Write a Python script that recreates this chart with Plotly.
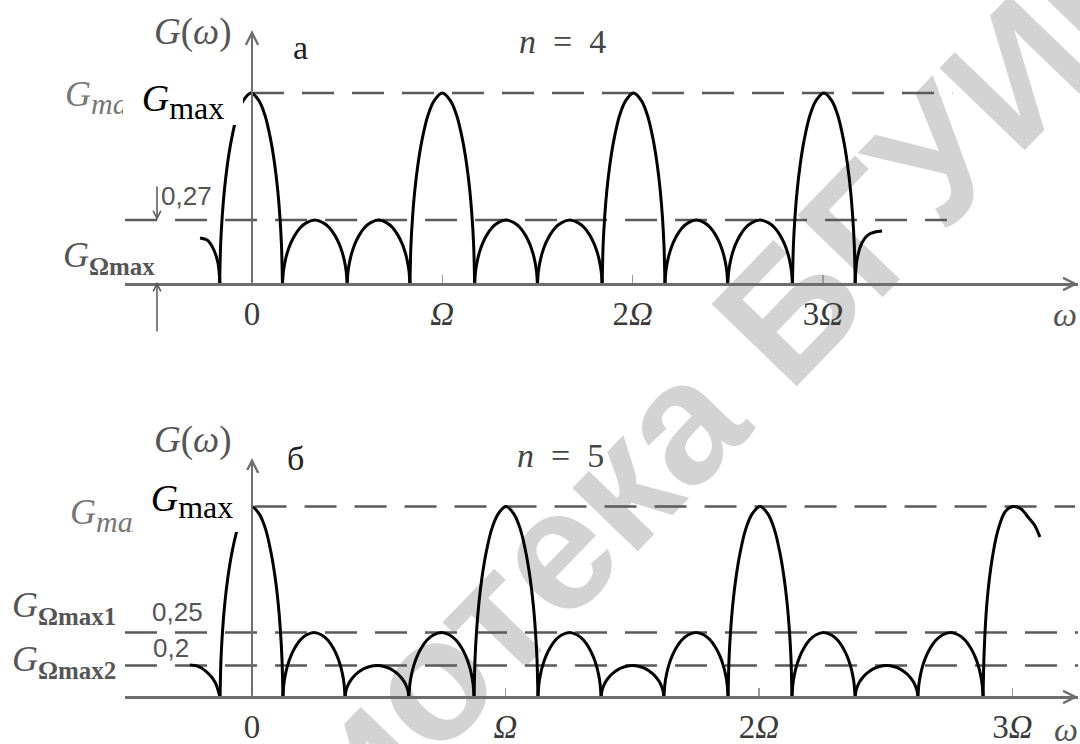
import plotly.graph_objects as go

W, H = 1080, 744

# ---------------- data ----------------
# common lobe profile: distance from lobe centre (in half-widths) -> relative height
ARCH_T = [0.0, 0.25, 0.45, 0.62, 0.75, 0.85, 0.92, 0.97, 1.0]
ARCH_H = [1.0, 0.96, 0.88, 0.76, 0.63, 0.49, 0.35, 0.20, 0.0]

# panel "а", n = 4  (x in units of Ω, y relative to Gmax)
A_ZEROS = [-0.17, 0.16, 0.50, 0.83, 1.17, 1.50, 1.84, 2.17, 2.50, 2.84, 3.17]
A_PEAKS = [1.0, 0.335, 0.335, 1.0, 0.335, 0.335, 1.0, 0.335, 0.335, 1.0]
A_LEFT_X = [-0.273, -0.236, -0.205, -0.179, -0.168]
A_LEFT_Y = [0.241, 0.230, 0.188, 0.110, 0.0]
A_RIGHT_X = [3.169, 3.179, 3.205, 3.237, 3.274, 3.311]
A_RIGHT_Y = [0.0, 0.126, 0.215, 0.257, 0.272, 0.277]
A_LEVELS = [1.0, 0.335]
A_LEVEL_FROM = [0.0, -0.667]
A_LEVEL_TO = [3.68, 3.652]

# panel "б", n = 5
B_ZEROS = [-0.126, 0.122, 0.367, 0.619, 0.876, 1.128, 1.377, 1.625, 1.878, 2.130, 2.379, 2.627, 2.884]
B_PEAKS = [1.0, 0.339, 0.165, 0.339, 1.0, 0.339, 0.165, 0.339, 1.0, 0.339, 0.165, 0.339]
B_LEFT_X = [-0.245, -0.217, -0.178, -0.146, -0.126]
B_LEFT_Y = [0.168, 0.163, 0.131, 0.079, 0.0]
B_RIGHT_X = [2.884, 2.888, 2.899, 2.919, 2.943, 2.970, 3.002, 3.034, 3.061, 3.089, 3.108]
B_RIGHT_Y = [0.0, 0.231, 0.493, 0.719, 0.877, 0.971, 1.0, 0.987, 0.945, 0.898, 0.840]
B_LEVELS = [1.0, 0.339, 0.165]
B_LEVEL_FROM = [0.01, -0.501, -0.501]
B_LEVEL_TO = [3.247, 3.26, 3.26]

TICK_VALS = [0, 1, 2, 3]
TICK_TEXT = ["0", "<i>Ω</i>", "2<i>Ω</i>", "3<i>Ω</i>"]

# ---------------- helpers ----------------
SERIF = "Liberation Serif"
SANS = "Liberation Sans"


def P(xpx, ypx):
    return xpx / W, 1 - ypx / H


def lobes(zeros, peaks, lx, ly, rx, ry):
    xs, ys = list(lx) + [None], list(ly) + [None]
    for z0, z1, hp in zip(zeros[:-1], zeros[1:], peaks):
        c, w = (z0 + z1) / 2, (z1 - z0) / 2
        for t, h in zip(ARCH_T[::-1], ARCH_H[::-1]):
            xs.append(c - t * w)
            ys.append(hp * h)
        for t, h in zip(ARCH_T[1:], ARCH_H[1:]):
            xs.append(c + t * w)
            ys.append(hp * h)
        xs.append(None)
        ys.append(None)
    xs += list(rx)
    ys += list(ry)
    return xs, ys


fig = go.Figure()

DASH = "32px,18px"
DASHCOL = "#5a5a5a"
for lv, x0, x1 in zip(A_LEVELS, A_LEVEL_FROM, A_LEVEL_TO):
    fig.add_trace(go.Scatter(x=[x0, x1], y=[lv, lv], mode="lines", xaxis="x", yaxis="y",
                             line=dict(color=DASHCOL, width=2.5, dash=DASH), hoverinfo="skip"))
for lv, x0, x1 in zip(B_LEVELS, B_LEVEL_FROM, B_LEVEL_TO):
    fig.add_trace(go.Scatter(x=[x0, x1], y=[lv, lv], mode="lines", xaxis="x2", yaxis="y2",
                             line=dict(color=DASHCOL, width=2.5, dash=DASH), hoverinfo="skip"))

ax_, ay_ = lobes(A_ZEROS, A_PEAKS, A_LEFT_X, A_LEFT_Y, A_RIGHT_X, A_RIGHT_Y)
bx_, by_ = lobes(B_ZEROS, B_PEAKS, B_LEFT_X, B_LEFT_Y, B_RIGHT_X, B_RIGHT_Y)
fig.add_trace(go.Scatter(x=ax_, y=ay_, mode="lines", xaxis="x", yaxis="y",
                         line=dict(color="black", width=3, shape="spline", smoothing=0.8),
                         connectgaps=False, hoverinfo="skip"))
fig.add_trace(go.Scatter(x=bx_, y=by_, mode="lines", xaxis="x2", yaxis="y2",
                         line=dict(color="black", width=3, shape="spline", smoothing=0.8),
                         connectgaps=False, hoverinfo="skip"))

# ---------------- axes: pixel geometry ----------------
X0PX, X1PX, ORIGPX = 125, 1078, 252
A_OMEGA, B_OMEGA = 190.3, 253.5
A_BASE, A_TOP = 284, 93
B_BASE, B_TOP = 697, 506.5

axcommon = dict(showgrid=False, zeroline=False, showline=True, linecolor="#6e6e6e", linewidth=2.5,
                ticks="inside", ticklen=8, tickwidth=1.2, tickcolor="#9a9a9a",
                tickvals=TICK_VALS, ticktext=TICK_TEXT,
                tickfont=dict(family=SERIF, size=33, color="#3a3a3a"),
                domain=[X0PX / W, X1PX / W], anchor="free", fixedrange=True)

a_s = A_BASE - A_TOP
b_s = B_BASE - B_TOP
fig.update_layout(
    width=W, height=H, margin=dict(l=0, r=0, t=0, b=0),
    paper_bgcolor="white", plot_bgcolor="rgba(0,0,0,0)", showlegend=False,
    xaxis=dict(range=[(X0PX - ORIGPX) / A_OMEGA, (X1PX - ORIGPX) / A_OMEGA],
               position=1 - A_BASE / H, **axcommon),
    xaxis2=dict(range=[(X0PX - ORIGPX) / B_OMEGA, (X1PX - ORIGPX) / B_OMEGA],
                position=1 - B_BASE / H, **axcommon),
    yaxis=dict(domain=[0.5, 1], range=[-(372 - A_BASE) / a_s, A_BASE / a_s], visible=False, anchor="x",
               fixedrange=True),
    yaxis2=dict(domain=[0, 0.5], range=[-(H - B_BASE) / b_s, (B_BASE - 372) / b_s], visible=False, anchor="x2",
                fixedrange=True),
)

# watermark, behind everything
cx, cy = P(564, 518)
fig.add_shape(type="rect", xref="paper", yref="paper", x0=cx - 0.05, x1=cx + 0.05, y0=cy - 0.05, y1=cy + 0.05,
              line=dict(width=0), fillcolor="rgba(0,0,0,0)", layer="below",
              label=dict(text="Библиотека БГУИР", textangle=-46, textposition="middle center",
                         font=dict(family=SANS, size=172, color="#d3d3d3", weight="bold")))

ann = []
AXC = "#6e6e6e"
# y axes with arrows
ann.append(dict(x=0, y=(A_BASE - 30) / a_s, xref="x", yref="y", ax=0, ay=0, axref="x", ayref="y",
                showarrow=True, arrowhead=5, arrowsize=1.2, arrowwidth=2, arrowcolor=AXC, text=""))
ann.append(dict(x=0, y=(B_BASE - 458) / b_s, xref="x2", yref="y2", ax=0, ay=0, axref="x2", ayref="y2",
                showarrow=True, arrowhead=5, arrowsize=1.2, arrowwidth=2, arrowcolor=AXC, text=""))
# x axis arrow heads
ann.append(dict(x=(X1PX - ORIGPX) / A_OMEGA, y=0, xref="x", yref="y", ax=-14, ay=0,
                showarrow=True, arrowhead=5, arrowsize=1.2, arrowwidth=2, arrowcolor=AXC, text=""))
ann.append(dict(x=(X1PX - ORIGPX) / B_OMEGA, y=0, xref="x2", yref="y2", ax=-14, ay=0,
                showarrow=True, arrowhead=5, arrowsize=1.2, arrowwidth=2, arrowcolor=AXC, text=""))
# dimension arrows for 0,27
dx = (157 - ORIGPX) / A_OMEGA
ann.append(dict(x=dx, y=A_LEVELS[1], xref="x", yref="y", ax=dx, ay=(A_BASE - 185) / a_s, axref="x", ayref="y",
                showarrow=True, arrowhead=5, arrowsize=1, arrowwidth=1.5, arrowcolor="#555", text=""))
ann.append(dict(x=dx, y=0.01, xref="x", yref="y", ax=dx, ay=(A_BASE - 333) / a_s, axref="x", ayref="y",
                showarrow=True, arrowhead=5, arrowsize=1, arrowwidth=1.5, arrowcolor="#555", text=""))


def txt(xpx, ypx, text, size=30, color="#3a3a3a", family=SERIF, xanchor="center", **kw):
    x, y = P(xpx, ypx)
    d = dict(x=x, y=y, xref="paper", yref="paper", text=text, showarrow=False, xanchor=xanchor,
             yanchor="middle", font=dict(family=family, size=size, color=color))
    d.update(kw)
    ann.append(d)


SUBG = "<i>G</i><sub><span style='font-size:{fs}px'>{s}</span></sub>"
# panel a labels
txt(193, 32, "<i>G</i>(<i>ω</i>)", 37, "#555")
txt(300, 48, "а", 34, "#222")
txt(562, 42, "<i>n</i>\u2002=\u20024", 34, "#444")
txt(63, 97, "<i>G<sub><span style='font-size:30px'>max</span></sub></i>", 36, "#777", xanchor="left")
txt(187, 196, "0,27", 26, "#555", family=SANS)
txt(61, 257, SUBG.format(fs=25, s="<b>Ωmax</b>"), 36, "#555", xanchor="left")
txt(1065, 315, "<i>ω</i>", 34, "#555")
# panel b labels
txt(193, 440, "<i>G</i>(<i>ω</i>)", 37, "#555")
txt(295, 458, "б", 34, "#222")
txt(560, 455, "<i>n</i>\u2002=\u20025", 34, "#444")
txt(68, 515, "<i>G<sub><span style='font-size:30px'>max</span></sub></i>", 36, "#777", xanchor="left")
txt(10, 607, SUBG.format(fs=25, s="<b>Ωmax1</b>"), 36, "#555", xanchor="left")
txt(177, 612, "0,25", 26, "#555", family=SANS)
txt(10, 661, SUBG.format(fs=25, s="<b>Ωmax2</b>"), 36, "#555", xanchor="left")
txt(171, 648, "0,2", 26, "#555", family=SANS)
txt(1066, 729, "<i>ω</i>", 34, "#555")

# white patches with the relabelled Gmax (drawn last so they cover)
for (bx0, by0, bw, bh) in [(123, 78, 120, 47), (133, 470, 118, 62)]:
    x, y = P(bx0, by0)
    ann.append(dict(x=x, y=y, xref="paper", yref="paper", xanchor="left", yanchor="top",
                    width=bw, height=bh, borderpad=0, borderwidth=0, bgcolor="white", showarrow=False,
                    align="center", valign="middle",
                    text="<i>G</i><sub><span style='font-size:32px'>max</span></sub>",
                    font=dict(family=SERIF, size=38, color="black")))

fig.update_layout(annotations=ann)
fig.write_html("out.html", config={"displayModeBar": False, "staticPlot": True},
               post_script="document.body.style.margin='0';document.body.style.overflow='hidden';")
